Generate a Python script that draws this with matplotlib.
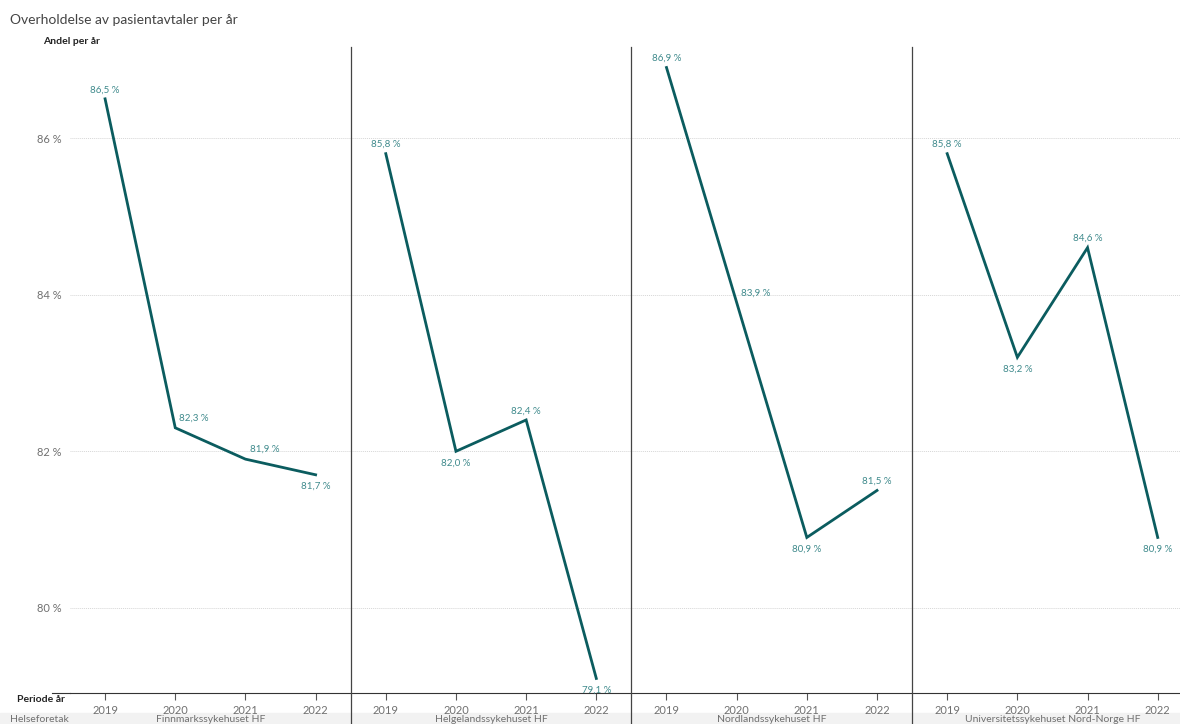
import numpy as np
import matplotlib.pyplot as plt
from matplotlib.lines import Line2D
from matplotlib.patches import Rectangle

plt.rcParams['font.family'] = ['Lato', 'DejaVu Sans']

# data
years = ['2019', '2020', '2021', '2022']
hospitals = ['Finnmarkssykehuset HF', 'Helgelandssykehuset HF',
             'Nordlandssykehuset HF', 'Universitetssykehuset Nord-Norge HF']
finnmark = [86.5, 82.3, 81.9, 81.7]
helgeland = [85.8, 82.0, 82.4, 79.1]
nordland = [86.9, 83.9, 80.9, 81.5]
unn = [85.8, 83.2, 84.6, 80.9]
yticks = [80, 82, 84, 86]

series = [finnmark, helgeland, nordland, unn]
# label placement per point: 'a' above, 'b' below, 'r' right/up
places = [['a', 'r', 'r', 'b'],
          ['a', 'b', 'a', 'b'],
          ['a', 'm', 'b', 'a'],
          ['a', 'b', 'a', 'b']]

W, H = 1180, 724
fig = plt.figure(figsize=(W / 100, H / 100), dpi=100)

line_col = '#0b5c5f'
lab_col = '#3f8a8c'
grey = '#707070'

def px(x0, y0, w, h):
    return [x0 / W, 1 - (y0 + h) / H, w / W, h / H]

top, bot = 47, 693
ylo, yhi = 78.914, 87.162
pw = 280.7
x = np.arange(len(years))

for i, (vals, pl) in enumerate(zip(series, places)):
    left = 70 + pw * i
    ax = fig.add_axes(px(left, top, pw, bot - top))
    ax.set_xlim(-0.5, 3.5)
    ax.set_ylim(ylo, yhi)
    for v in yticks:
        ax.axhline(v, color='#d6d6d6', lw=0.7, ls=(0, (1, 1)), zorder=0)
    ax.plot(x, vals, color=line_col, lw=2, solid_joinstyle='miter', zorder=3)
    for xi, v, p in zip(x, vals, pl):
        txt = f'{v:.1f} %'.replace('.', ',')
        if p == 'a':
            off, ha = (0, 6.5), 'center'
        elif p == 'b':
            off, ha = (0, -8.5), 'center'
        elif p == 'r':
            off, ha = (3, 7), 'left'
        else:
            off, ha = (3, 6.5), 'left'
        ax.annotate(txt, (xi, v), xytext=off, textcoords='offset points',
                    ha=ha, va='center', fontsize=7, color=lab_col)
    ax.set_xticks(x)
    ax.set_xticklabels(years, fontsize=8, color=grey)
    ax.tick_params(axis='x', length=5, color='#555555', width=0.8, pad=4)
    for s in ['top', 'right', 'left']:
        ax.spines[s].set_visible(False)
    ax.spines['bottom'].set_color('#333333')
    ax.spines['bottom'].set_linewidth(0.8)
    if i == 0:
        ax.set_yticks(yticks)
        ax.set_yticklabels([f'{v} %' for v in yticks], fontsize=8, color=grey)
        ax.tick_params(axis='y', length=0, pad=6)
    else:
        ax.set_yticks([])
    # hospital name band
    fig.text((left + pw / 2) / W, 1 - 723.5 / H, hospitals[i], ha='center', va='bottom',
             fontsize=7.5, color=grey)
    if i > 0:
        fig.add_artist(Line2D([left / W, left / W], [1 - top / H, 0],
                              color='#444444', lw=0.9))

# axis line extension to the left of first panel
fig.add_artist(Line2D([52 / W, 70 / W], [1 - bot / H, 1 - bot / H], color='#333333', lw=0.8))
fig.add_artist(Rectangle((0, 0), 1, 1 - 713 / H, transform=fig.transFigure,
                         color='#f2f2f2', zorder=-1))

fig.text(10 / W, 1 - 20 / H, 'Overholdelse av pasientavtaler per år', fontsize=10,
         color='#444444', va='center')
fig.text(43 / W, 1 - 41 / H, 'Andel per år', fontsize=7.5, fontweight='bold',
         color='#222222', va='center')
fig.text(65 / W, 1 - 700 / H, 'Periode år', fontsize=7.5, fontweight='bold',
         color='#222222', va='center', ha='right')
fig.text(10 / W, 1 - 723.5 / H, 'Helseforetak', fontsize=7.5, color=grey, va='bottom')

fig.savefig('out.png', dpi=100)
